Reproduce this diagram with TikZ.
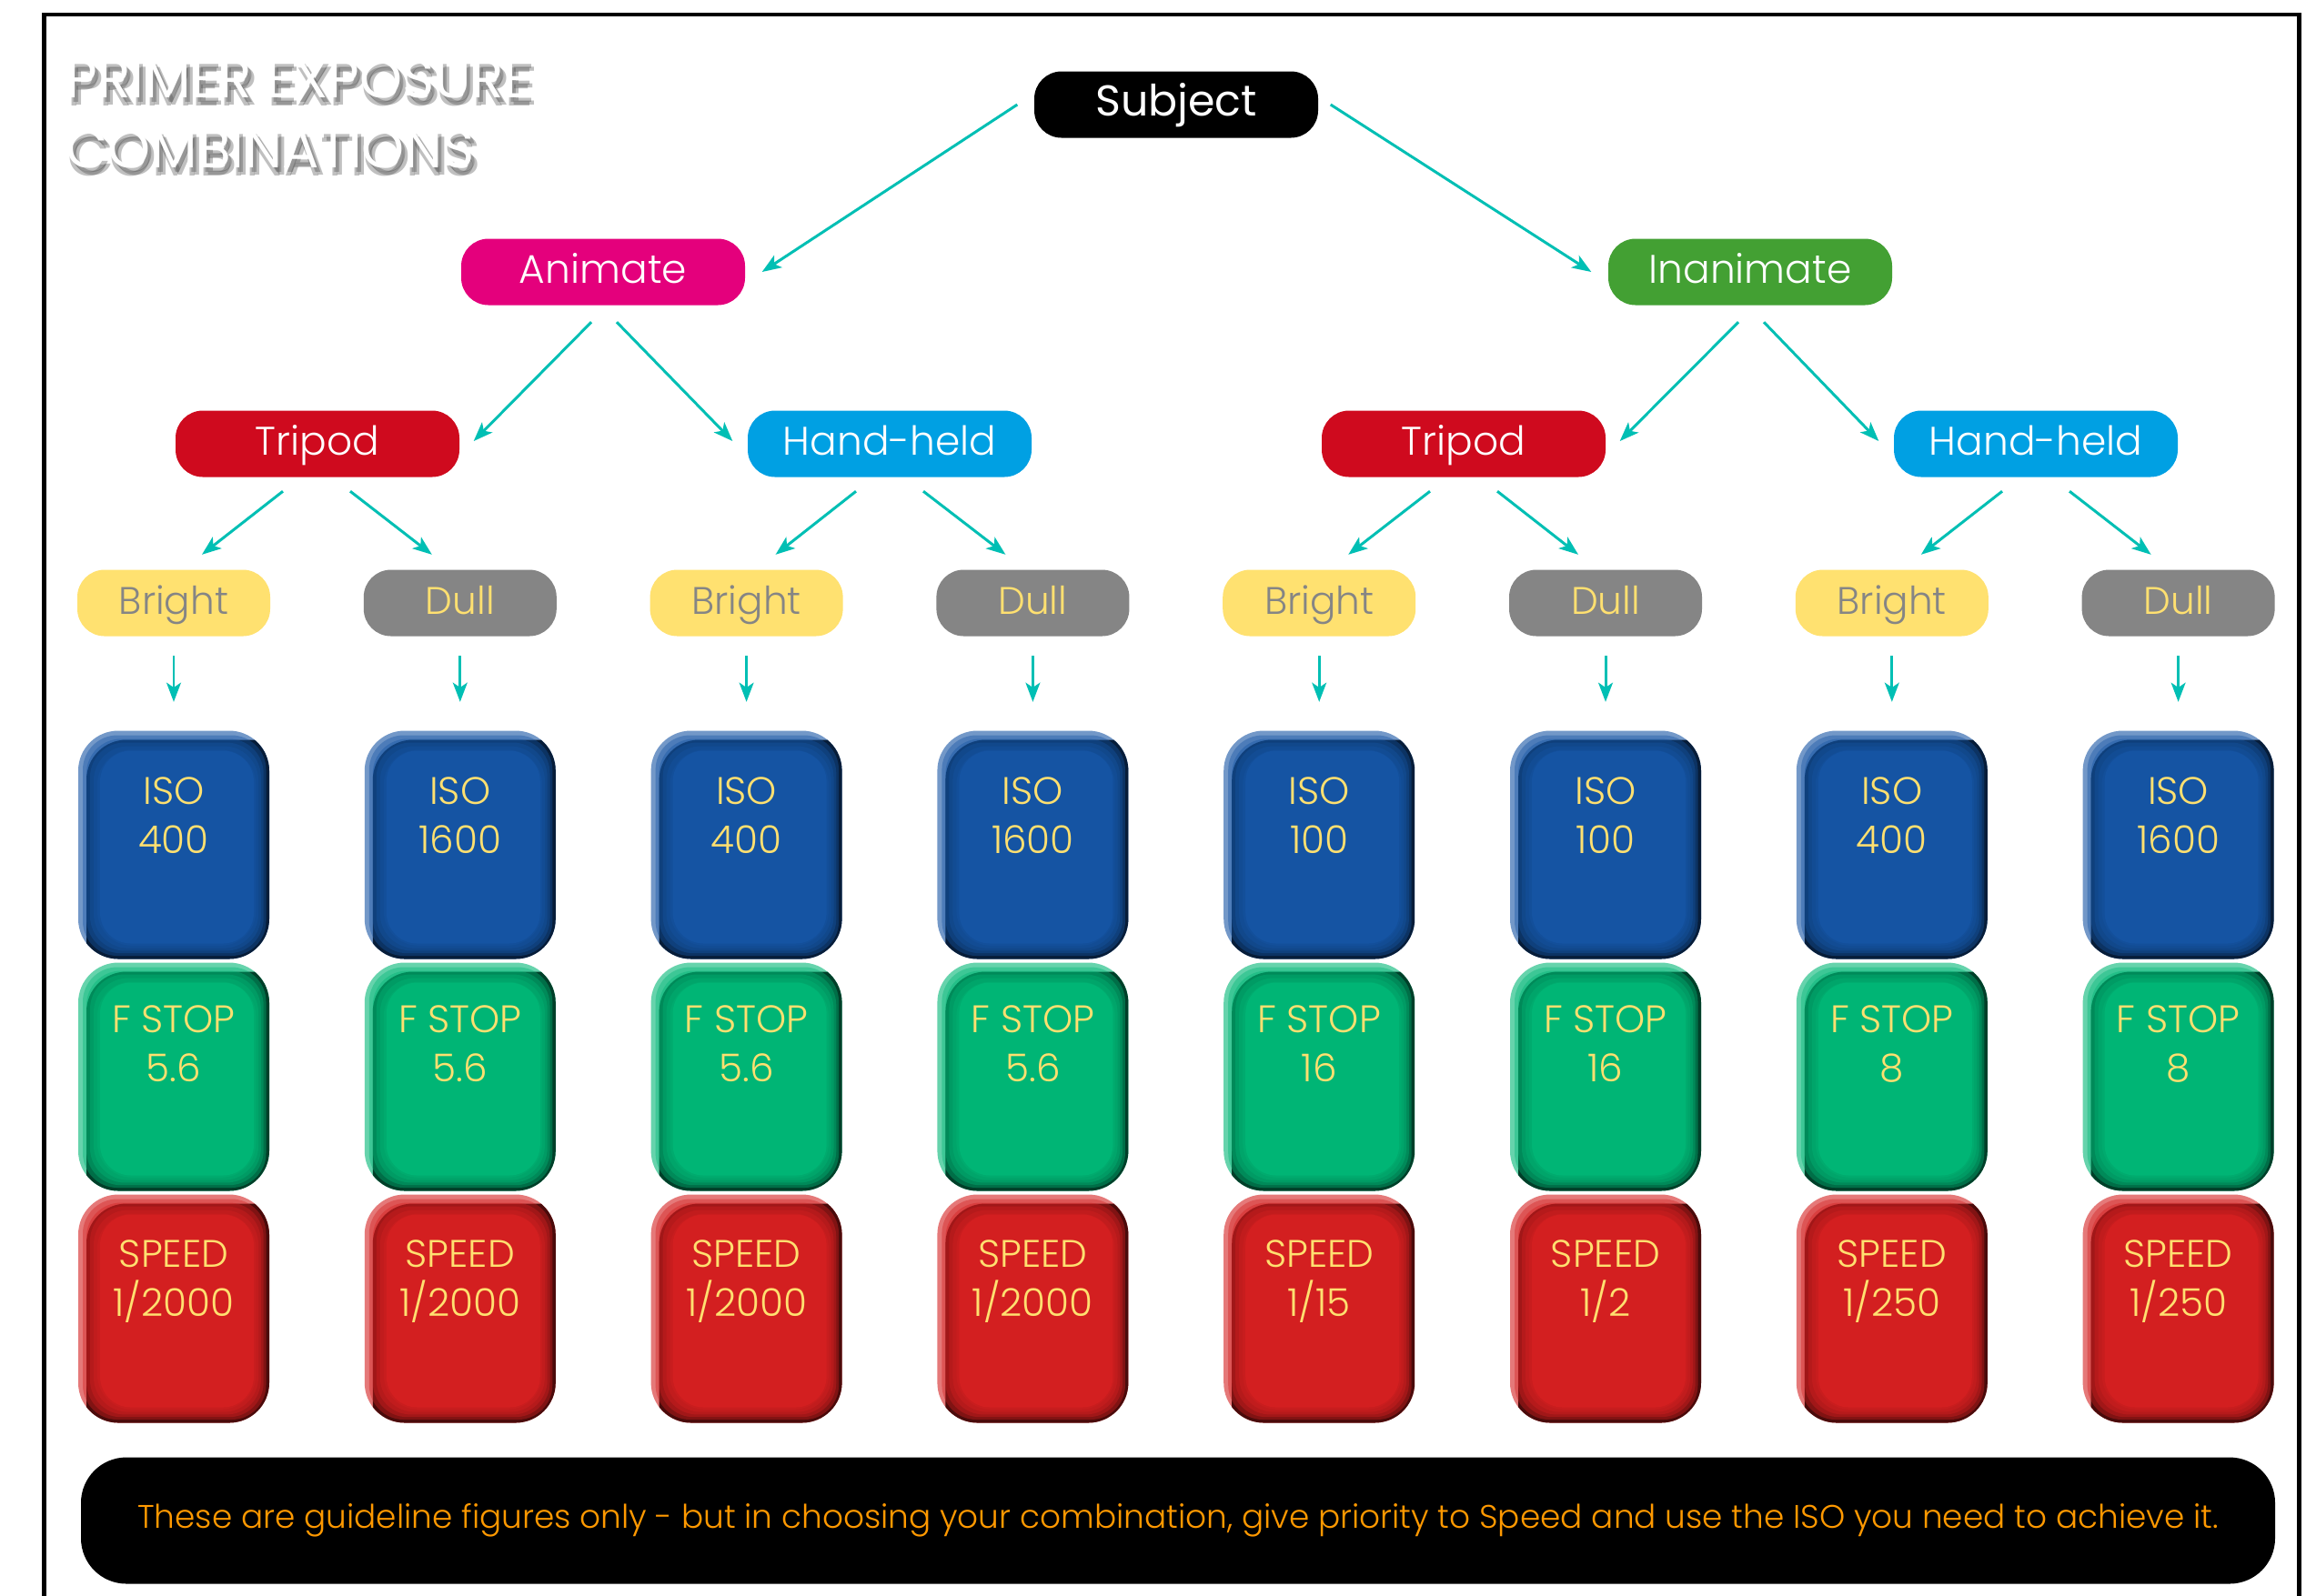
\documentclass[tikz,border=0pt]{standalone}
\usepackage{fontspec}
\setmainfont{Poppins}
\newfontfamily\ligera{Poppins Light}
\usepackage{tikz}
\usetikzlibrary{arrows.meta,positioning}
\definecolor{flechacol}{HTML}{00BFB4}
\definecolor{animcol}{HTML}{E4007C}
\definecolor{inancol}{HTML}{43A033}
\definecolor{tripcol}{HTML}{CF0A1E}
\definecolor{handcol}{HTML}{00A0E3}
\definecolor{brightcol}{HTML}{FFE170}
\definecolor{dullcol}{HTML}{858585}
\definecolor{amarillo}{HTML}{FFE070}
\definecolor{isocol}{HTML}{1554A3}
\definecolor{fstopcol}{HTML}{00B575}
\definecolor{speedcol}{HTML}{D31F20}
\definecolor{notacol}{HTML}{FF9900}

\begin{document}
\begin{tikzpicture}[
  rama/.style={rounded corners=0.3cm, minimum width=3.12cm, minimum height=0.73cm, inner sep=0pt,
               text height=0.7em, text depth=0pt, text=white, font=\ligera\fontsize{12.5}{15}\selectfont},
  luz/.style={rounded corners=0.3cm, minimum width=2.12cm, minimum height=0.73cm, inner sep=0pt,
              text height=0.7em, text depth=0pt, font=\ligera\fontsize{12}{14}\selectfont},
  luzBright/.style={luz, fill=brightcol, text=dullcol},
  luzDull/.style={luz, fill=dullcol, text=amarillo},
  bloque/.style={minimum width=2.1cm, minimum height=2.51cm, inner sep=0pt, rounded corners=0.44cm,
    fill=#1!60!white,
    path picture={
      \fill[#1!35!black, rounded corners=0.44cm] ([xshift=0.09cm,yshift=-0.1cm]path picture bounding box.north west)
        rectangle ([xshift=1cm,yshift=-1cm]path picture bounding box.south east);
      \foreach \k in {0.05,0.09,0.13,0.17,0.21}
        \fill[#1, opacity=0.4, rounded corners=0.38cm] ([xshift=\k cm,yshift=-\k cm]path picture bounding box.north west)
          rectangle ([xshift=-0.7*\k cm,yshift=0.7*\k cm]path picture bounding box.south east);
      \fill[#1, rounded corners=0.34cm] ([xshift=0.24cm,yshift=-0.22cm]path picture bounding box.north west)
        rectangle ([xshift=-0.17cm,yshift=0.17cm]path picture bounding box.south east);
    }},
  valor/.style={text=amarillo, align=center, font=\ligera\fontsize{12}{15.4}\selectfont},
  titulo/.style={anchor=west, align=left, inner sep=0pt, font=\fontsize{17}{21.8}\selectfont},
  flecha/.style={-{Stealth[length=6pt,width=4.5pt,inset=1.5pt]}, line width=0.85pt, flechacol}]
\useasboundingbox (0,0) rectangle (25.35,-17.54);
\fill[white] (0,0) rectangle (25.35,-17.54);
\draw[line width=1.4pt] (0.485,-17.6) |- (25.27,-0.16) -- (25.27,-17.6);

% title with soft shadow
\foreach \dx/\dy [count=\n] in {0.04/-0.05, 0.07/-0.08, 0.02/-0.09}
  \node[titulo, text=black!70, opacity=0.35] (sombra\n) at (0.72+\dx,-1.25+\dy) {PRIMER EXPOSURE\\COMBINATIONS};
\node[titulo, text=white] (titulo) at (0.72,-1.25) {PRIMER EXPOSURE\\COMBINATIONS};

% tree
\node[rama, fill=black, font=\fontsize{13.5}{16}\selectfont] (subj) at (12.93,-1.15) {Subject};
\node[rama, fill=animcol] (anim) at (6.63,-2.99) {Animate};
\node[rama, fill=inancol] (inan) at (19.24,-2.99) {Inanimate};
\node[rama, fill=tripcol] (mode1) at (3.49,-4.88) {Tripod};
\node[rama, fill=handcol] (mode2) at (9.78,-4.88) {Hand-held};
\node[rama, fill=tripcol] (mode3) at (16.09,-4.88) {Tripod};
\node[rama, fill=handcol] (mode4) at (22.38,-4.88) {Hand-held};

\draw[flecha] ([xshift=-0.18cm]subj.west) -- ([xshift=0.18cm]anim.east);
\draw[flecha] ([xshift=0.13cm]subj.east) -- ([xshift=-0.18cm]inan.west);
\foreach \a/\b/\c in {anim/mode1/mode2, inan/mode3/mode4} {
  \draw[flecha] ([xshift=-0.13cm,yshift=-0.18cm]\a.south) -- ([xshift=0.15cm,yshift=0.03cm]\b.east);
  \draw[flecha] ([xshift=0.15cm,yshift=-0.18cm]\a.south) -- ([xshift=-0.16cm,yshift=0.03cm]\c.west);
}

% columns
\foreach \i/\m/\s/\e/\lux/\iso/\fs/\sp in {
    1/mode1/-0.38/0.31/Bright/400/5.6/2000, 2/mode1/0.36/-0.31/Dull/1600/5.6/2000,
    3/mode2/-0.37/0.32/Bright/400/5.6/2000, 4/mode2/0.37/-0.30/Dull/1600/5.6/2000,
    5/mode3/-0.37/0.32/Bright/100/16/15,    6/mode3/0.37/-0.30/Dull/100/16/2,
    7/mode4/-0.37/0.32/Bright/400/8/250,    8/mode4/0.37/-0.30/Dull/1600/8/250} {
  \node[luz\lux] (lux\i) at ({1.91+3.148*(\i-1)},-6.63) {\lux};
  \draw[flecha] ([xshift=\s cm,yshift=-0.15cm]\m.south) -- ([xshift=\e cm,yshift=0.16cm]lux\i.north);
  \node[bloque=isocol] (iso\i) at ({1.91+3.148*(\i-1)},-9.29) {};
  \node[bloque=fstopcol] (fs\i) at ({1.91+3.148*(\i-1)},-11.84) {};
  \node[bloque=speedcol] (sp\i) at ({1.91+3.148*(\i-1)},-14.39) {};
  \node[valor] (isot\i) at ([yshift=0.32cm]iso\i.center) {ISO\\\iso};
  \node[valor] (fst\i) at ([yshift=0.36cm]fs\i.center) {F STOP\\\fs};
  \node[valor] (spt\i) at ([yshift=0.30cm]sp\i.center) {SPEED\\1/\sp};
  \draw[flecha] ([yshift=-0.21cm]lux\i.south) -- ([yshift=0.31cm]iso\i.north);
}

\node[fill=black, rounded corners=0.5cm, minimum width=24.12cm, minimum height=1.39cm, text=notacol,
      font=\ligera\fontsize{10.2}{13}\selectfont] (nota) at (12.95,-16.72)
  {These are guideline figures only - but in choosing your combination, give priority to Speed and use the ISO you need to achieve it.};
\end{tikzpicture}
\end{document}
